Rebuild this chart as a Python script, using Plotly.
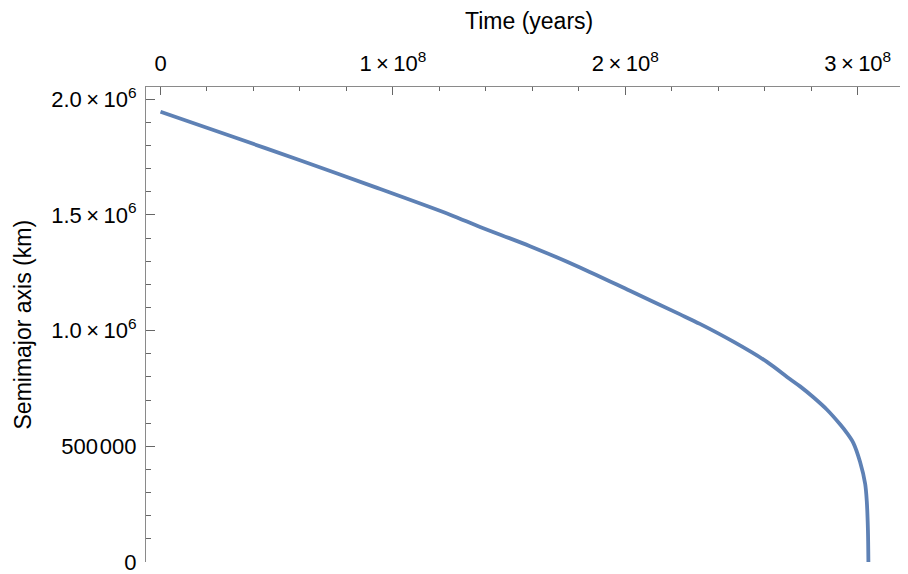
import plotly.graph_objects as go

# Data
time_years = [0.000e8, 0.299e8, 0.600e8, 0.923e8, 1.246e8, 1.375e8, 1.590e8, 1.805e8,
              2.020e8, 2.236e8, 2.321e8, 2.465e8, 2.608e8, 2.708e8, 2.752e8, 2.808e8,
              2.867e8, 2.924e8, 2.953e8, 2.981e8, 3.010e8, 3.032e8, 3.039e8, 3.044e8, 3.046e8]
semimajor_km = [1.946e6, 1.842e6, 1.736e6, 1.620e6, 1.501e6, 1.448e6, 1.365e6, 1.273e6,
                1.172e6, 1.070e6, 1.029e6, 0.952e6, 0.866e6, 0.791e6, 0.759e6, 0.713e6,
                0.659e6, 0.595e6, 0.558e6, 0.515e6, 0.433e6, 0.338e6, 0.264e6, 0.139e6, 0.0]

x_tickvals = [0, 1e8, 2e8, 3e8]
x_ticktext = ["0", "1\u2009×\u200910<sup>8</sup>", "2\u2009×\u200910<sup>8</sup>", "3\u2009×\u200910<sup>8</sup>"]
y_tickvals = [0, 5e5, 1.0e6, 1.5e6, 2.0e6]
y_ticktext = ["0", "500\u200a000", "1.0\u2009×\u200910<sup>6</sup>",
              "1.5\u2009×\u200910<sup>6</sup>", "2.0\u2009×\u200910<sup>6</sup>"]

x_title = "Time (years)"
y_title = "Semimajor axis (km)"

FONT = "Liberation Sans, Arial, sans-serif"
AXIS_COLOR = "#8a8a8a"
TICK_COLOR = "#666666"

fig = go.Figure()
fig.add_trace(go.Scatter(
    x=time_years, y=semimajor_km, mode="lines",
    line=dict(color="#5E81B5", width=3.8, shape="spline", smoothing=0.8),
    hoverinfo="skip", showlegend=False,
))

# page body has an 8px margin, so the figure is sized/margined to compensate
fig.update_layout(
    width=900, height=566,
    margin=dict(l=138, r=0, t=79, b=12),
    paper_bgcolor="white", plot_bgcolor="white",
    font=dict(family=FONT, size=22, color="#000000"),
    xaxis=dict(
        side="top", range=[-6.24e6, 3.2164e8],
        showline=True, linecolor=AXIS_COLOR, linewidth=1.2,
        showgrid=False, zeroline=False,
        tickmode="array", tickvals=x_tickvals, ticktext=x_ticktext,
        ticks="inside", ticklen=8, tickwidth=1, tickcolor=TICK_COLOR,
        ticklabelstandoff=6, ticklabeloverflow="allow",
        minor=dict(ticks="inside", ticklen=4, tick0=0, dtick=2e7, tickcolor=TICK_COLOR, showgrid=False),
        tickfont=dict(family=FONT, size=22, color="#000000"),
    ),
    yaxis=dict(
        range=[0, 2.0527e6],
        showline=True, linecolor=AXIS_COLOR, linewidth=1.2,
        showgrid=False, zeroline=False,
        tickmode="array", tickvals=y_tickvals, ticktext=y_ticktext,
        ticks="inside", ticklen=9, tickwidth=1, tickcolor=TICK_COLOR,
        ticklabelstandoff=4, ticklabeloverflow="allow",
        minor=dict(ticks="inside", ticklen=5, tick0=0, dtick=1e5, tickcolor=TICK_COLOR, showgrid=False),
        tickfont=dict(family=FONT, size=22, color="#000000"),
    ),
    annotations=[
        dict(text=x_title, xref="paper", yref="paper", x=0.5026, y=1, yshift=66,
             xanchor="center", yanchor="middle", showarrow=False,
             font=dict(family=FONT, size=23, color="#000000")),
        dict(text=y_title, xref="paper", yref="paper", x=0, y=0.5, xshift=-124,
             xanchor="center", yanchor="middle", textangle=-90, showarrow=False,
             font=dict(family=FONT, size=23, color="#000000")),
    ],
)

fig.write_html("out.html")
